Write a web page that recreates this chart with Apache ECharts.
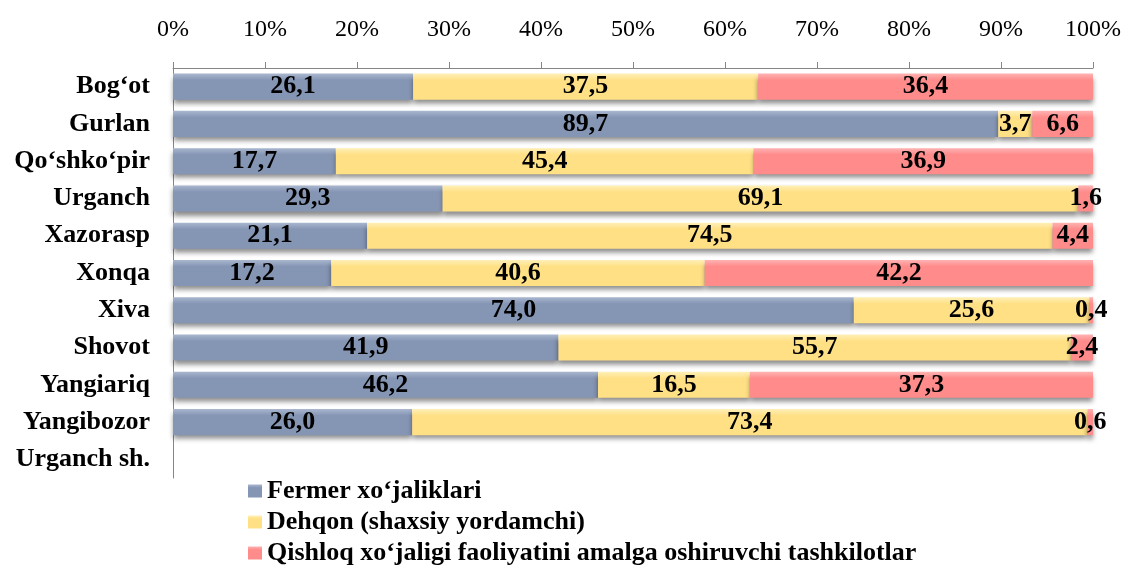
<!DOCTYPE html>
<html>
<head>
<meta charset="utf-8">
<script src="https://cdn.jsdelivr.net/npm/echarts@6/dist/echarts.min.js"></script>
<style>
	html, body { margin: 0; padding: 0; background: #fff; }
	#chart { width: 1125px; height: 565px; }
</style>
</head>
<body>
<div id="chart"></div>
<script>
	// kategoriyalar (tumanlar)
	const districts = ['Bog‘ot', 'Gurlan', 'Qo‘shko‘pir', 'Urganch', 'Xazorasp', 'Xonqa', 'Xiva', 'Shovot', 'Yangiariq', 'Yangibozor', 'Urganch sh.']
	const fermer = [26.1, 89.7, 17.7, 29.3, 21.1, 17.2, 74.0, 41.9, 46.2, 26.0, null]
	const dehqon = [37.5, 3.7, 45.4, 69.1, 74.5, 40.6, 25.6, 55.7, 16.5, 73.4, null]
	const tashkilot = [36.4, 6.6, 36.9, 1.6, 4.4, 42.2, 0.4, 2.4, 37.3, 0.6, null]
	const seriesNames = ['Fermer xo‘jaliklari', 'Dehqon (shaxsiy yordamchi)', 'Qishloq xo‘jaligi faoliyatini amalga oshiruvchi tashkilotlar']
	const tickLabels = [0, 10, 20, 30, 40, 50, 60, 70, 80, 90, 100]

	const font = "'Liberation Serif', 'Times New Roman', serif"

	const shade = (top, mid) => new echarts.graphic.LinearGradient(0, 0, 0, 1, [
		{ offset: 0, color: top },
		{ offset: 0.25, color: mid },
		{ offset: 1, color: mid }
	])

	const makeSeries = (name, data, top, mid) => ({
		name: name,
		type: 'bar',
		stack: 'total',
		barCategoryGap: '30%',
		data: data,
		itemStyle: {
			color: shade(top, mid),
			shadowColor: 'rgba(0,0,0,0.45)',
			shadowBlur: 5,
			shadowOffsetY: 4
		},
		label: {
			show: true,
			position: 'inside',
			color: '#000',
			fontFamily: font,
			fontWeight: 'bold',
			fontSize: 26,
			formatter: p => p.value == null ? '' : p.value.toFixed(1).replace('.', ',')
		}
	})

	const myChart = echarts.init(document.getElementById('chart'))
	myChart.setOption({
		animation: false,
		textStyle: { fontFamily: font },
		grid: {
			left: 173,
			right: 32,
			top: 68,
			bottom: 87
		},
		legend: {
			orient: 'vertical',
			left: 243,
			top: 473,
			height: 100,
			icon: 'rect',
			itemWidth: 14,
			itemHeight: 13,
			itemGap: 5,
			data: seriesNames,
			textStyle: {
				fontFamily: font,
				fontWeight: 'bold',
				fontSize: 26,
				color: '#000'
			}
		},
		xAxis: {
			type: 'value',
			position: 'top',
			min: 0,
			max: 100,
			interval: 10,
			axisLine: { show: true, lineStyle: { color: '#868686' } },
			axisTick: { show: true, length: 6, lineStyle: { color: '#868686' } },
			splitLine: { show: false },
			axisLabel: {
				fontFamily: font,
				fontSize: 24,
				color: '#000',
				margin: 26,
				formatter: v => tickLabels.indexOf(v) >= 0 ? v + '%' : ''
			}
		},
		yAxis: {
			type: 'category',
			inverse: true,
			data: districts,
			axisLine: { show: true, lineStyle: { color: '#868686' } },
			axisTick: { show: false },
			axisLabel: {
				fontFamily: font,
				fontWeight: 'bold',
				fontSize: 26,
				color: '#000',
				margin: 23
			}
		},
		series: [
			makeSeries(seriesNames[0], fermer, '#a9b7cf', '#8595b4'),
			makeSeries(seriesNames[1], dehqon, '#fff0b8', '#ffe085'),
			makeSeries(seriesNames[2], tashkilot, '#ffb3b3', '#ff8b8b')
		]
	})
</script>
</body>
</html>
